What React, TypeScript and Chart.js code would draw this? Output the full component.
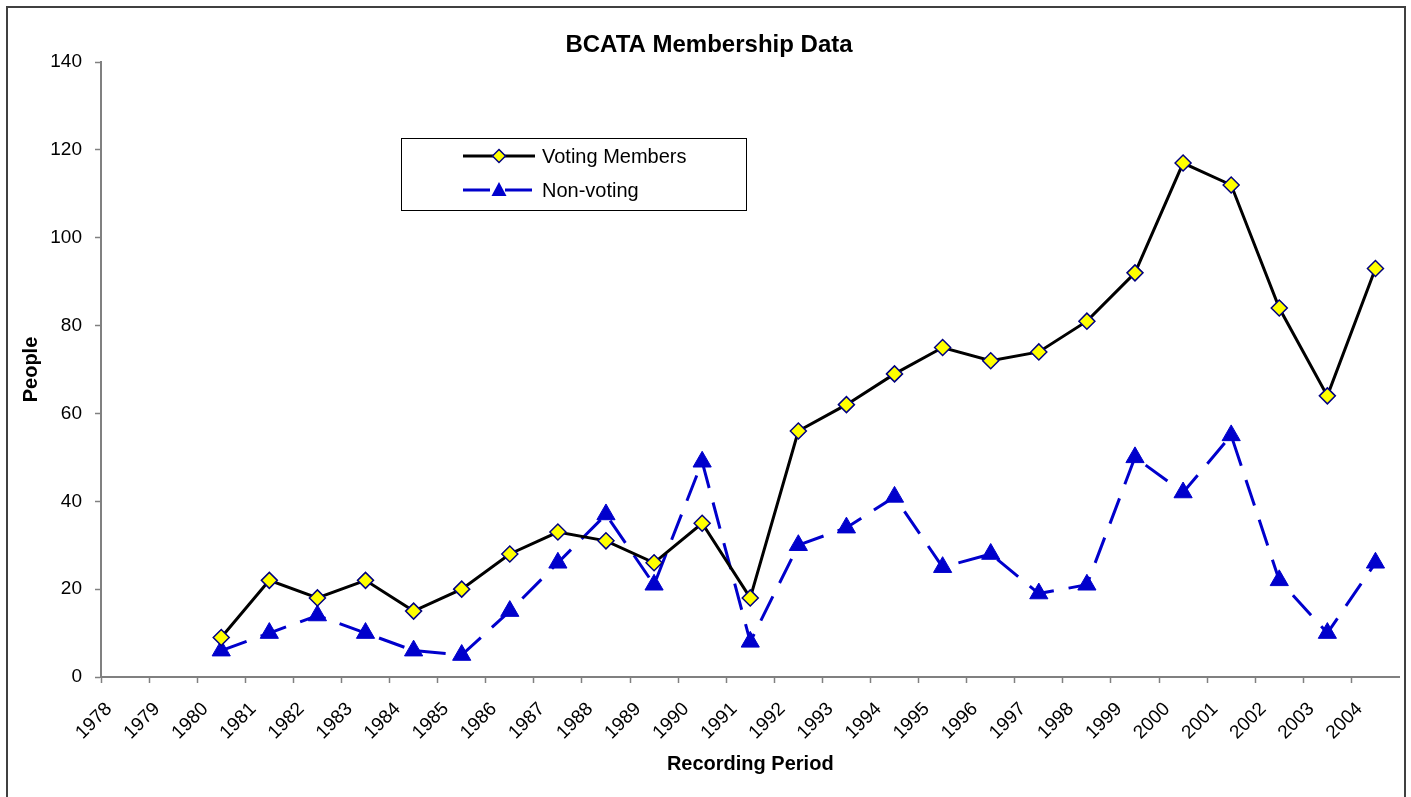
import React, { useEffect, useRef } from 'react';
import { Chart, registerables } from 'chart.js';

Chart.register(...registerables);

const periods = ['1978', '1979', '1980', '1981', '1982', '1983', '1984', '1985', '1986', '1987', '1988', '1989', '1990', '1991', '1992', '1993', '1994', '1995', '1996', '1997', '1998', '1999', '2000', '2001', '2002', '2003', '2004'];
const dataYears = ['1980', '1981', '1982', '1983', '1984', '1985', '1986', '1987', '1988', '1989', '1990', '1991', '1992', '1993', '1994', '1995', '1996', '1997', '1998', '1999', '2000', '2001', '2002', '2003', '2004'];
const votingMembers = [9, 22, 18, 22, 15, 20, 28, 33, 31, 26, 35, 18, 56, 62, 69, 75, 72, 74, 81, 92, 117, 112, 84, 64, 93];
const nonVoting = [6, 10, 14, 10, 6, 5, 15, 26, 37, 21, 49, 8, 30, 34, 41, 25, 28, 19, 21, 50, 42, 55, 22, 10, 26];
const yTicks = [0, 20, 40, 60, 80, 100, 120, 140];

const FONT = '"Liberation Sans", Arial, sans-serif';
const BLUE = '#0000CC';
const DASH = [27, 15];

const toPoints = (vals: number[]) =>
  vals.map((v, i) => ({ x: periods.indexOf(dataYears[i]) + 0.5, y: v }));

const decor = {
  id: 'decor',
  afterDraw(chart: any) {
    const ctx = chart.ctx;
    const area = chart.chartArea;
    ctx.save();
    // outer border
    ctx.strokeStyle = '#404040';
    ctx.lineWidth = 2;
    ctx.strokeRect(7, 7, 1398, 820);
    ctx.fillStyle = '#000';
    ctx.textAlign = 'center';
    ctx.textBaseline = 'middle';
    ctx.font = `bold 24px ${FONT}`;
    ctx.fillText('BCATA Membership Data', 709, 45);
    ctx.font = `bold 20px ${FONT}`;
    ctx.fillText('Recording Period', (area.left + area.right) / 2, 764);
    ctx.save();
    ctx.translate(31, (area.top + area.bottom) / 2);
    ctx.rotate(-Math.PI / 2);
    ctx.fillText('People', 0, 0);
    ctx.restore();

    // legend
    ctx.lineWidth = 1;
    ctx.strokeStyle = '#000';
    ctx.strokeRect(401.5, 138.5, 345, 72);
    const rows = [
      { label: 'Voting Members', y: 156, color: '#000', dash: [] as number[] },
      { label: 'Non-voting', y: 190, color: BLUE, dash: DASH },
    ];
    rows.forEach((r, i) => {
      ctx.save();
      ctx.strokeStyle = r.color;
      ctx.lineWidth = 3;
      ctx.setLineDash(r.dash);
      ctx.beginPath();
      ctx.moveTo(463, r.y);
      ctx.lineTo(535, r.y);
      ctx.stroke();
      ctx.restore();
      if (i === 0) {
        ctx.save();
        ctx.fillStyle = '#FFFF00';
        ctx.strokeStyle = '#000080';
        ctx.lineWidth = 1.5;
        ctx.beginPath();
        ctx.moveTo(499, r.y - 6.5);
        ctx.lineTo(505.5, r.y);
        ctx.lineTo(499, r.y + 6.5);
        ctx.lineTo(492.5, r.y);
        ctx.closePath();
        ctx.fill();
        ctx.stroke();
        ctx.restore();
      } else {
        ctx.save();
        ctx.fillStyle = BLUE;
        ctx.beginPath();
        ctx.moveTo(499, r.y - 8);
        ctx.lineTo(506.5, r.y + 6);
        ctx.lineTo(491.5, r.y + 6);
        ctx.closePath();
        ctx.fill();
        ctx.restore();
      }
      ctx.fillStyle = '#000';
      ctx.textAlign = 'left';
      ctx.font = `20px ${FONT}`;
      ctx.fillText(r.label, 542, r.y + 1);
    });
    ctx.restore();
  },
};

export default function App() {
  const ref = useRef<HTMLCanvasElement | null>(null);
  useEffect(() => {
    document.body.style.margin = '0';
    const canvas = ref.current;
    if (!canvas) return;
    Chart.defaults.font.family = FONT;
    Chart.defaults.font.size = 19;
    Chart.defaults.color = '#000';
    const chart = new Chart(canvas, {
      type: 'line',
      data: {
        datasets: [
          {
            label: 'Voting Members',
            data: toPoints(votingMembers),
            borderColor: '#000',
            borderWidth: 3,
            pointStyle: 'rectRot',
            pointRadius: 8,
            pointBackgroundColor: '#FFFF00',
            pointBorderColor: '#000080',
            pointBorderWidth: 1.5,
            tension: 0,
          },
          {
            label: 'Non-voting',
            data: toPoints(nonVoting),
            borderColor: BLUE,
            borderWidth: 3,
            borderDash: DASH,
            pointStyle: 'triangle',
            pointRadius: 10.5,
            pointBackgroundColor: BLUE,
            pointBorderColor: BLUE,
            pointBorderWidth: 1,
            tension: 0,
          },
        ],
      },
      options: {
        responsive: false,
        animation: false,
        events: [],
        layout: { padding: { top: 62, right: 7, left: 0, bottom: 0 } },
        plugins: { legend: { display: false }, title: { display: false }, tooltip: { enabled: false } },
        scales: {
          x: {
            type: 'linear',
            min: 0,
            max: periods.length,
            afterBuildTicks: (scale: any) => {
              scale.ticks = periods.map((_, i) => ({ value: i })).concat([{ value: periods.length }]);
            },
            afterFit: (scale: any) => {
              scale.height = 120;
              scale.paddingLeft = 0;
              scale.paddingRight = 0;
            },
            ticks: {
              autoSkip: false,
              maxRotation: 45,
              minRotation: 45,
              padding: 15,
              labelOffset: 8,
              callback: (v: any) => periods[v] ?? '',
              font: { size: 19 },
            },
            grid: {
              drawOnChartArea: false,
              drawTicks: true,
              tickLength: 6,
              tickWidth: 1.5,
              tickColor: (c: any) => (c.tick && c.tick.value === periods.length ? 'rgba(0,0,0,0)' : '#808080'),
            },
            border: { color: '#808080', width: 2 },
          },
          y: {
            min: 0,
            max: 140,
            afterBuildTicks: (scale: any) => {
              scale.ticks = yTicks.map((v) => ({ value: v }));
            },
            afterFit: (scale: any) => {
              scale.width = 101;
              scale.paddingTop = 0;
              scale.paddingBottom = 0;
            },
            ticks: { padding: 13, font: { size: 19 } },
            grid: {
              drawOnChartArea: false,
              drawTicks: true,
              tickLength: 6,
              tickWidth: 1.5,
              tickColor: '#808080',
            },
            border: { color: '#808080', width: 2 },
          },
        },
      },
      plugins: [decor],
    });
    return () => chart.destroy();
  }, []);
  return (
    <div style={{ position: 'relative', width: 1411, height: 797, background: '#fff' }}>
      <canvas ref={ref} width={1411} height={797} />
    </div>
  );
}
